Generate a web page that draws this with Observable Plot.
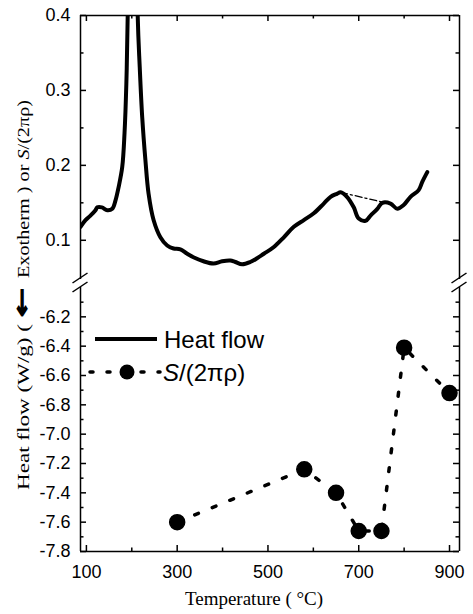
<!DOCTYPE html>
<html><head><meta charset="utf-8">
<script src="https://cdn.jsdelivr.net/npm/d3@7"></script>
<script src="https://cdn.jsdelivr.net/npm/@observablehq/plot@0.6"></script>
<style>
body{margin:0;background:#fff;}
#wrap{position:relative;width:473px;height:614px;overflow:hidden;background:#fff;}
#top,#bot{position:absolute;left:0;}
#top{top:0}
#bot{top:280px}
#over{position:absolute;left:0;top:0;}
</style></head><body>
<div id="wrap"><div id="top"></div><div id="bot"></div><svg id="over" width="473" height="614"></svg></div>
<script>
// ---- data ----
const heatT = [87, 98, 109, 120, 124, 134, 146, 157, 164, 171, 179, 184, 188, 191, 202, 213, 217.5, 223, 230, 237, 248, 263, 278, 292, 307, 322, 337, 358, 380, 399, 417, 428, 443, 461, 476, 491, 513, 535, 557, 579, 601, 623, 638, 652, 660, 674, 689, 700, 715, 726, 741, 752, 770, 785, 799, 814, 832, 840, 851];
const heatV = [0.118, 0.127, 0.133, 0.140, 0.144, 0.144, 0.140, 0.142, 0.153, 0.171, 0.198, 0.243, 0.309, 0.40, 0.9, 0.40, 0.331, 0.264, 0.207, 0.162, 0.127, 0.104, 0.093, 0.089, 0.088, 0.082, 0.077, 0.072, 0.069, 0.072, 0.073, 0.071, 0.068, 0.071, 0.076, 0.082, 0.091, 0.104, 0.118, 0.127, 0.136, 0.149, 0.158, 0.162, 0.164, 0.158, 0.144, 0.129, 0.126, 0.133, 0.142, 0.150, 0.149, 0.142, 0.147, 0.158, 0.167, 0.178, 0.191];
const baseT = [660, 752];
const baseV = [0.164, 0.151];
const sT = [300, 580, 650, 700, 750, 800, 900];
const sV = [-7.60, -7.24, -7.40, -7.66, -7.66, -6.41, -6.72];
const xMajor = [100, 300, 500, 700, 900];
const xMinor = [200, 400, 600, 800];
const yTopMajor = [0.1, 0.2, 0.3, 0.4];
const yTopMinor = [0.15, 0.25, 0.35];
const yBotMajor = [-6.2, -6.4, -6.6, -6.8, -7.0, -7.2, -7.4, -7.6, -7.8];
const yBotMinor = [-6.1, -6.3, -6.5, -6.7, -6.9, -7.1, -7.3, -7.5, -7.7];
const xDomain = [87, 922];
const yTopDomain = [0.049, 0.4];
const yBotDomain = [-7.8, -6.0];
const legendLabels = ["Heat flow", "S/(2πρ)"];
const xLabel = "Temperature ( °C)";

// ---- layout ----
const W = 473, ML = 80, MR = 14;
const FW = W - ML - MR;
const topH = 280, topMT = 15, topMB = 2;
const botH = 334, botMT = 7, botMB = 63, botTop = 280;
const topFH = topH - topMT - topMB;
const botFH = botH - botMT - botMB;
const MAJ = 6, MIN = 3.5, SW = 1.5;
const tickFont = "'Liberation Sans', Arial, Helvetica, sans-serif";

const heat = heatT.map((t, i) => ({t, v: heatV[i]}));
const base = baseT.map((t, i) => ({t, v: baseV[i]}));
const sdata = sT.map((t, i) => ({t, v: sV[i]}));

function ticksFor(fh, majX, minX, majY, minY, sides) {
  const m = [];
  const st = {stroke: "black", strokeWidth: SW};
  if (sides.includes("bottom")) {
    m.push(Plot.tickX(majX, {x: d => d, insetTop: fh - MAJ, ...st}));
    m.push(Plot.tickX(minX, {x: d => d, insetTop: fh - MIN, ...st}));
  }
  if (sides.includes("top")) {
    m.push(Plot.tickX(majX, {x: d => d, insetBottom: fh - MAJ, ...st}));
    m.push(Plot.tickX(minX, {x: d => d, insetBottom: fh - MIN, ...st}));
  }
  m.push(Plot.tickY(majY, {y: d => d, insetRight: FW - MAJ, ...st}));
  m.push(Plot.tickY(minY, {y: d => d, insetRight: FW - MIN, ...st}));
  m.push(Plot.tickY(majY, {y: d => d, insetLeft: FW - MAJ, ...st}));
  m.push(Plot.tickY(minY, {y: d => d, insetLeft: FW - MIN, ...st}));
  return m;
}

const topPlot = Plot.plot({
  width: W, height: topH, marginLeft: ML, marginRight: MR, marginTop: topMT, marginBottom: topMB,
  x: {domain: xDomain, axis: null},
  y: {domain: yTopDomain, axis: null},
  style: {fontFamily: tickFont, fontSize: "18px", color: "black", background: "transparent"},
  marks: [
    Plot.axisY({ticks: yTopMajor, anchor: "left", tickSize: 0, tickPadding: 10, tickFormat: d => d.toFixed(1), label: null, fontSize: 18}),
    ...ticksFor(topFH, xMajor, xMinor, yTopMajor, yTopMinor, ["top"]),
    Plot.ruleX([xDomain[0], xDomain[1]], {stroke: "black", strokeWidth: SW, insetBottom: -1}),
    Plot.ruleY([yTopDomain[1]], {stroke: "black", strokeWidth: SW}),
    Plot.line(base, {x: "t", y: "v", stroke: "black", strokeWidth: 1.3, strokeDasharray: "7,3,2,3"}),
    Plot.line(heat, {x: "t", y: "v", stroke: "black", strokeWidth: 4, curve: "catmull-rom", clip: true, strokeLinejoin: "round"})
  ]
});
document.getElementById("top").appendChild(topPlot);

const botPlot = Plot.plot({
  width: W, height: botH, marginLeft: ML, marginRight: MR, marginTop: botMT, marginBottom: botMB,
  x: {domain: xDomain, axis: null},
  y: {domain: yBotDomain, axis: null},
  style: {fontFamily: tickFont, fontSize: "18px", color: "black", background: "transparent"},
  marks: [
    Plot.axisY({ticks: yBotMajor, anchor: "left", tickSize: 0, tickPadding: 10, tickFormat: d => d.toFixed(1), label: null, fontSize: 18}),
    Plot.axisX({ticks: xMajor, anchor: "bottom", tickSize: 0, tickPadding: 14, tickFormat: d => String(d), label: null, fontSize: 18}),
    ...ticksFor(botFH, xMajor, xMinor, yBotMajor, yBotMinor, ["bottom"]),
    Plot.ruleX([xDomain[0], xDomain[1]], {stroke: "black", strokeWidth: SW}),
    Plot.ruleY([yBotDomain[0]], {stroke: "black", strokeWidth: SW}),
    Plot.line(sdata, {x: "t", y: "v", stroke: "black", strokeWidth: 3.5, strokeDasharray: "4,15", strokeLinecap: "round"}),
    Plot.dot(sdata, {x: "t", y: "v", r: 7.5, fill: "black", stroke: "black"})
  ]
});
document.getElementById("bot").appendChild(botPlot);

// ---- overlay: axis title, break marks, legend ----
const svg = d3.select("#over");
const frameL = ML, frameR = W - MR;
const brkY = topMT + topFH; // bottom of upper frame
for (const xa of [frameL, frameR]) {
  for (const off of [0, 9]) {
    svg.append("line")
      .attr("x1", xa - 7.5).attr("y1", brkY + 5 + off)
      .attr("x2", xa + 7.5).attr("y2", brkY - 5 + off)
      .attr("stroke", "black").attr("stroke-width", 1.5);
  }
}

// y-axis title (rotated, serif)
const serif = "'Liberation Serif', 'Times New Roman', Times, serif";
const g = svg.append("g").attr("transform", "translate(29,0)");
function rot(y) { return `translate(0,${y}) rotate(-90)`; }
g.append("text").attr("transform", rot(490))
  .attr("font-family", serif).attr("font-size", 17.5)
  .attr("textLength", 166).attr("lengthAdjust", "spacingAndGlyphs")
  .text("Heat flow (W/g) (");
g.append("text").attr("transform", rot(317))
  .attr("font-family", "'DejaVu Sans', sans-serif").attr("font-size", 22)
  .attr("textLength", 29).attr("lengthAdjust", "spacingAndGlyphs")
  .attr("stroke", "black").attr("stroke-width", 1.4)
  .text("←");
const t2 = g.append("text").attr("transform", rot(278))
  .attr("font-family", serif).attr("font-size", 17.5)
  .attr("textLength", 178).attr("lengthAdjust", "spacingAndGlyphs");
t2.append("tspan").text("Exotherm ) or ");
t2.append("tspan").attr("font-style", "italic").text("S");
t2.append("tspan").text("/(2πρ)");

// x-axis title
svg.append("text").attr("x", 254).attr("y", 605).attr("text-anchor", "middle")
  .attr("font-family", serif).attr("font-size", 19)
  .text(xLabel);

// legend
const lg = svg.append("g").attr("font-family", tickFont).attr("font-size", 24);
lg.append("line").attr("x1", 95).attr("x2", 157).attr("y1", 339).attr("y2", 339)
  .attr("stroke", "black").attr("stroke-width", 4);
lg.append("text").attr("x", 164).attr("y", 348).text(legendLabels[0]);
lg.append("line").attr("x1", 90).attr("x2", 160).attr("y1", 372).attr("y2", 372)
  .attr("stroke", "black").attr("stroke-width", 3.5).attr("stroke-dasharray", "3,14")
  .attr("stroke-linecap", "round");
lg.append("circle").attr("cx", 127).attr("cy", 372).attr("r", 7.5).attr("fill", "black");
const lt = lg.append("text").attr("x", 163).attr("y", 381);
lt.append("tspan").attr("font-style", "italic").text("S");
lt.append("tspan").text("/(2πρ)");
</script>
</body></html>
